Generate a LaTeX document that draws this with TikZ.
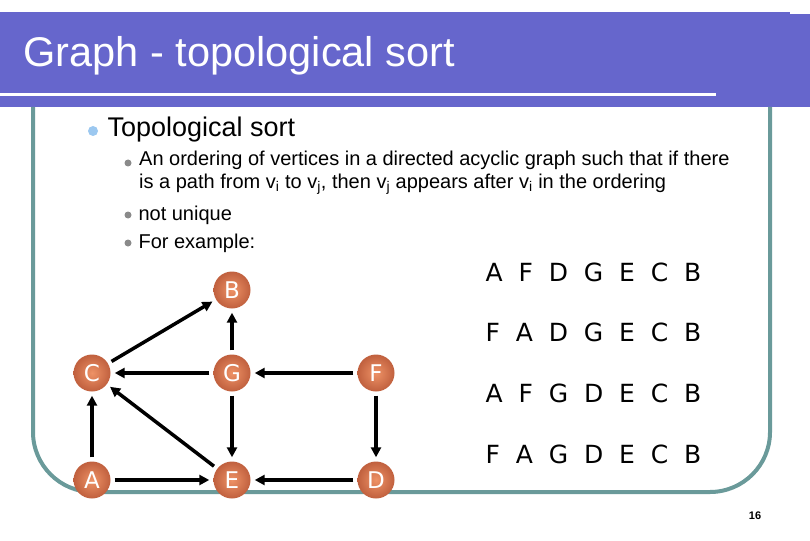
\documentclass[tikz,border=0pt]{standalone}
\usepackage{fontspec}
\setmainfont{Liberation Sans}
\newfontfamily\dvs{DejaVu Sans}
\usetikzlibrary{arrows.meta}
\definecolor{barc}{HTML}{6666CC}
\definecolor{teal2}{HTML}{6A9A9A}
\definecolor{nodein}{HTML}{EE9266}
\definecolor{nodeout}{HTML}{C0603E}
\definecolor{bul}{HTML}{9CC8F0}
\definecolor{bul2}{HTML}{8A8A8A}
\tikzset{
  vtx/.style={circle,minimum size=37pt,inner sep=0pt,shading=radial,inner color=nodein,outer color=nodeout,text=white,font=\dvs\fontsize{23}{23}\selectfont},
  edge/.style={-{Triangle[length=10pt,width=10pt]},line width=3.5pt,shorten >=4pt,shorten <=4pt},
  body/.style={anchor=west,font=\fontsize{20}{23}\selectfont},
  ord/.style={anchor=west,font=\dvs\fontsize{25}{25}\selectfont}
}
\begin{document}
\begin{tikzpicture}[x=1pt,y=-1pt]
\useasboundingbox (0,0) rectangle (810,540);
\fill[barc] (0,12) rectangle (790,107);
\fill[barc] (790,14) rectangle (810,107);
\draw[white,line width=3pt] (0,95) -- (716,95);
\node[anchor=west,text=white,font=\fontsize{41.5}{42}\selectfont] (title) at (20,56) {Graph - topological sort};
\draw[teal2,line width=4pt,rounded corners=60pt] (33,107) -- (33,492) -- (770,492) -- (770,107);
\fill[bul] (93,131) circle (5pt);
\node[anchor=west,font=\fontsize{27}{27}\selectfont] (h) at (104,130) {Topological sort};
\fill[bul2] (128,163) circle (3.5pt);
\fill[bul2] (128,215) circle (3.5pt);
\fill[bul2] (128,243) circle (3.5pt);
\node[body,align=left,anchor=north west,inner sep=0pt] (t1) at (139,151) {An ordering of vertices in a directed acyclic graph such that if there\\is a path from v\textsubscript{i} to v\textsubscript{j}, then v\textsubscript{j} appears after v\textsubscript{i} in the ordering};
\node[body] (t2) at (135,215) {not unique};
\node[body] (t3) at (135,243) {For example:};
\node[vtx] (B) at (232,290) {B};
\node[vtx] (C) at (92,373) {C};
\node[vtx] (G) at (232,373) {G};
\node[vtx] (F) at (376,373) {F};
\node[vtx] (A) at (92,480) {A};
\node[vtx] (E) at (232,480) {E};
\node[vtx] (D) at (376,480) {D};
\draw[edge] (C) -- (B);
\draw[edge] (G) -- (B);
\draw[edge] (G) -- (C);
\draw[edge] (F) -- (G);
\draw[edge] (G) -- (E);
\draw[edge] (F) -- (D);
\draw[edge] (E) -- (C);
\draw[edge] (A) -- (C);
\draw[edge] (A) -- (E);
\draw[edge] (D) -- (E);
\node[ord] (o1) at (482,272) {A\ \ F\ \ D\ \ G\ \ E\ \ C\ \ B};
\node[ord] (o2) at (482,332) {F\ \ A\ \ D\ \ G\ \ E\ \ C\ \ B};
\node[ord] (o3) at (482,393) {A\ \ F\ \ G\ \ D\ \ E\ \ C\ \ B};
\node[ord] (o4) at (482,454) {F\ \ A\ \ G\ \ D\ \ E\ \ C\ \ B};
\node[font=\bfseries\fontsize{11}{11}\selectfont] (pg) at (755,516) {16};
\end{tikzpicture}
\end{document}
